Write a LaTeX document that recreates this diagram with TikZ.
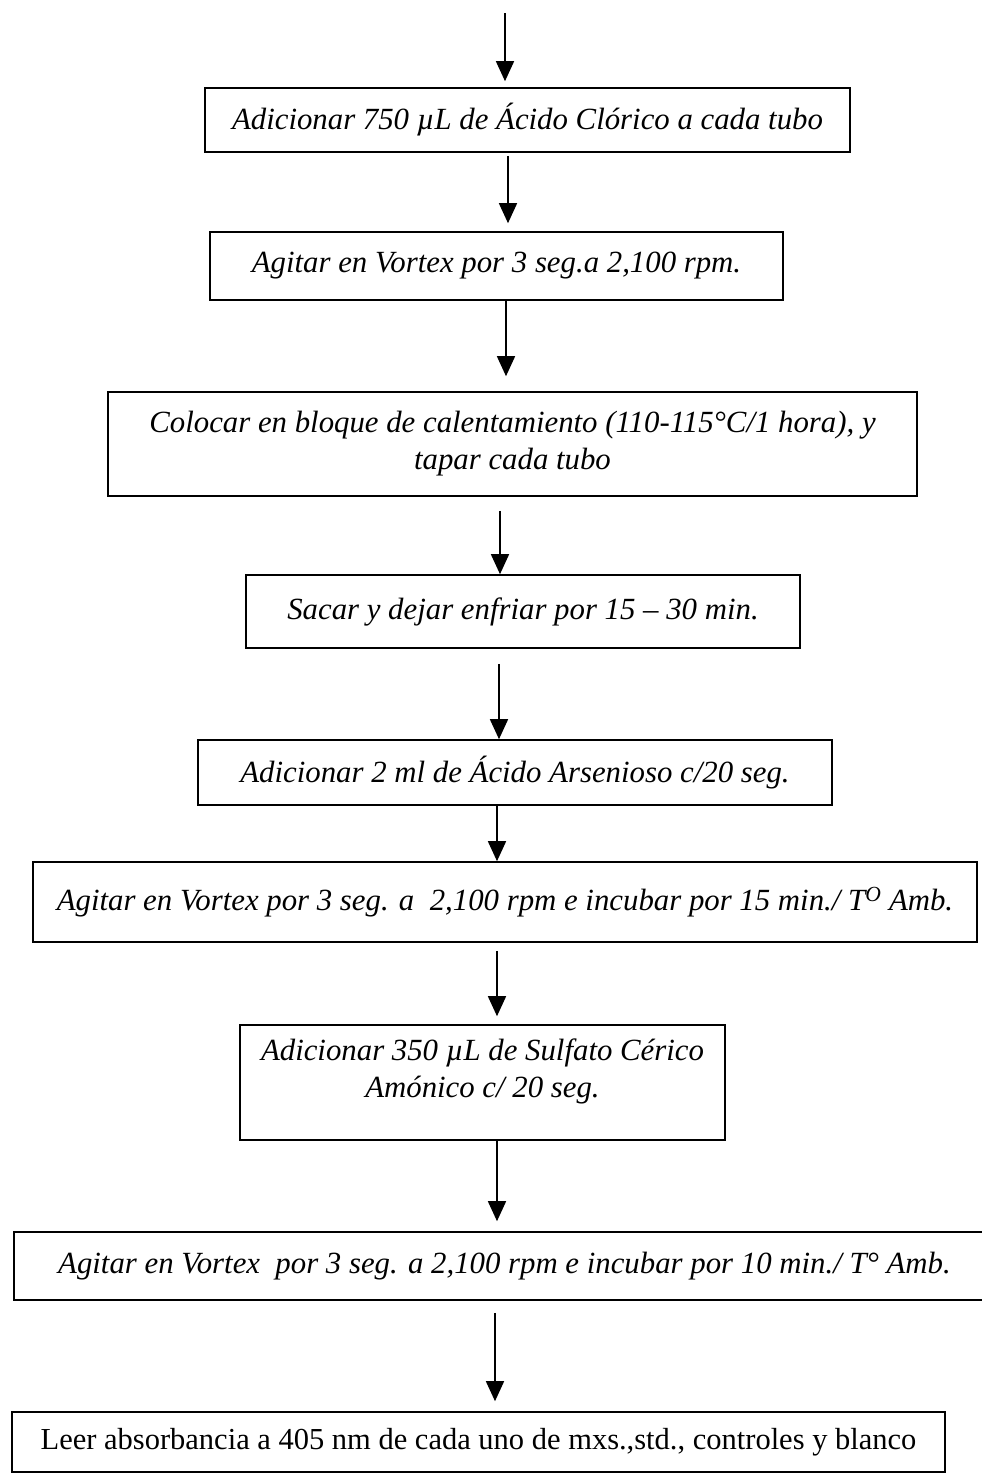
\documentclass[tikz,border=0pt]{standalone}
\usepackage{fontspec}
\setmainfont{Liberation Serif}
\usetikzlibrary{arrows.meta}
\tikzset{
  stepbox/.style={draw, line width=1.6pt, rectangle, inner sep=0pt, align=center,
     font=\fontsize{30.8}{37}\selectfont\itshape},
  arr/.style={line width=1.5pt, -{Triangle[width=18pt,length=20pt]}}
}
\begin{document}
\begin{tikzpicture}[x=1pt,y=-1pt]
\useasboundingbox (0,0) rectangle (982,1478);
\coordinate (top) at (505,13);
\node[stepbox, minimum width=645pt, minimum height=64pt] (b1) at (527.5,120)
  {Adicionar 750 µL de Ácido Clórico a cada tubo};
\node[stepbox, minimum width=573pt, minimum height=68pt] (b2) at (496.5,266)
  {Agitar en Vortex por 3 seg.a 2,100 rpm.};
\node[stepbox, minimum width=809pt, minimum height=104pt] (b3) at (512.5,444)
  {Colocar en bloque de calentamiento (110-115°C/1 hora), y\\tapar cada tubo};
\node[stepbox, minimum width=554pt, minimum height=73pt] (b4) at (523,611.5)
  {Sacar y dejar enfriar por 15 – 30 min.};
\node[stepbox, minimum width=634pt, minimum height=65pt] (b5) at (515,772.5)
  {Adicionar 2 ml de Ácido Arsenioso c/20 seg.};
\node[stepbox, minimum width=944pt, minimum height=80pt] (b6) at (505,902)
  {Agitar en Vortex por 3 seg. a\ \ 2,100 rpm e incubar por 15 min./ T\textsuperscript{O} Amb.};
\node[stepbox, minimum width=485pt, minimum height=115pt] (b7) at (482.5,1082.5)
  {\parbox[c][111pt][t]{480pt}{\centering\vspace{12pt}Adicionar 350 µL de Sulfato Cérico\\Amónico c/ 20 seg.}};
\node[stepbox, minimum width=981pt, minimum height=68pt] (b8) at (504.5,1266)
  {Agitar en Vortex\ \ por 3 seg. a 2,100 rpm e incubar por 10 min./ T° Amb.};
\node[stepbox, font=\fontsize{30.5}{36}\selectfont, minimum width=933pt, minimum height=60pt] (b9) at (478.5,1442)
  {Leer absorbancia a 405 nm de cada uno de mxs.,std., controles y blanco};
\draw[arr] (top) -- ([xshift=-22.5pt,yshift=6pt]b1.north);
\draw[arr] ([xshift=-19.5pt,yshift=-3pt]b1.south) -- ([xshift=11.5pt,yshift=8pt]b2.north);
\draw[arr] ([xshift=9.5pt]b2.south) -- ([xshift=-6.5pt,yshift=15pt]b3.north);
\draw[arr] ([xshift=-12.5pt,yshift=-14pt]b3.south) -- ([xshift=-23pt]b4.north);
\draw[arr] ([xshift=-24pt,yshift=-15pt]b4.south) -- ([xshift=-16pt]b5.north);
\draw[arr] ([xshift=-18pt]b5.south) -- ([xshift=-8pt]b6.north);
\draw[arr] ([xshift=-8pt,yshift=-8pt]b6.south) -- ([xshift=14.5pt,yshift=8pt]b7.north);
\draw[arr] ([xshift=14.5pt]b7.south) -- ([xshift=-7.5pt,yshift=10pt]b8.north);
\draw[arr] ([xshift=-9.5pt,yshift=-12pt]b8.south) -- ([xshift=16.5pt,yshift=10pt]b9.north);
\end{tikzpicture}
\end{document}
